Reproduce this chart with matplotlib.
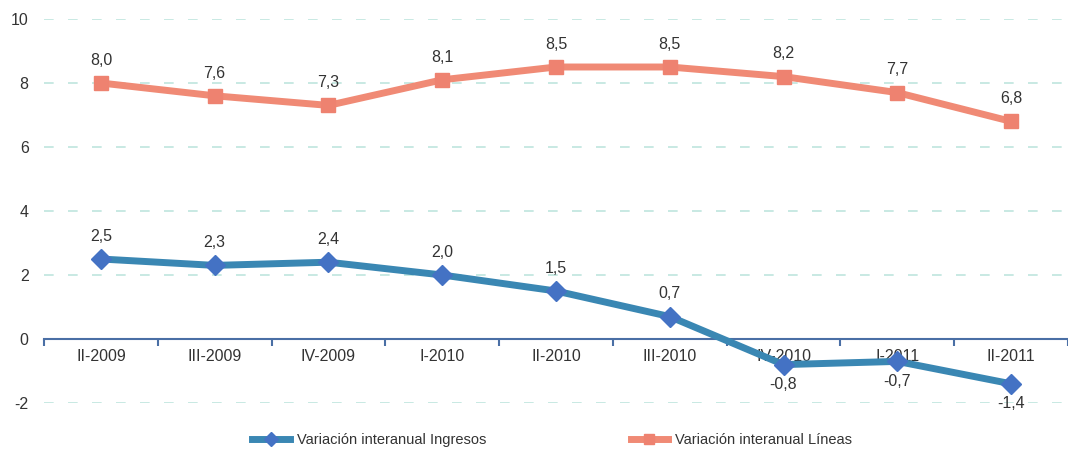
import matplotlib.pyplot as plt
import numpy as np

# Data
periods = ['II-2009', 'III-2009', 'IV-2009', 'I-2010', 'II-2010',
           'III-2010', 'IV-2010', 'I-2011', 'II-2011']
ingresos = [2.5, 2.3, 2.4, 2.0, 1.5, 0.7, -0.8, -0.7, -1.4]
lineas = [8.0, 7.6, 7.3, 8.1, 8.5, 8.5, 8.2, 7.7, 6.8]

plt.rcParams['font.family'] = ['Liberation Sans', 'DejaVu Sans']
txt = '#333333'

fig = plt.figure(figsize=(10.68, 4.5), dpi=100)
ax = fig.add_axes([44 / 1068, 1 - 403 / 450, 1024 / 1068, 384 / 450])

x = np.arange(len(periods))
ax.plot(x, ingresos, color='#3a87b3', lw=5, marker='D', ms=10,
        mfc='#4472c4', mec='#4472c4', label='Variación interanual Ingresos',
        zorder=3, clip_on=False)
ax.plot(x, lineas, color='#f08a75', lw=5, marker='s', ms=9.5,
        mfc='#ee8270', mec='#ee8270', label='Variación interanual Líneas',
        zorder=3, clip_on=False)

# Data labels
for xi, v in zip(x, lineas):
    ax.annotate(f'{v:.1f}'.replace('.', ','), (xi, v), xytext=(0, 11),
                textcoords='offset points', ha='center', va='bottom',
                fontsize=11.5, color=txt)
for xi, v in zip(x, ingresos):
    off = 11 if v >= 0 else -9
    ax.annotate(f'{v:.1f}'.replace('.', ','), (xi, v), xytext=(0, off),
                textcoords='offset points', ha='center',
                va='bottom' if v >= 0 else 'top',
                fontsize=11.5, color=txt)

ax.set_xlim(-0.5, 8.5)
ax.set_ylim(-2, 10)
ax.set_yticks([-2, 0, 2, 4, 6, 8, 10])
ax.set_yticklabels(['-2', '0', '2', '4', '6', '8', '10'])
ax.grid(axis='y', color='#bfe5de', ls=(0, (5.8, 8.6)), lw=1.2)
ax.set_axisbelow(True)

for s in ['top', 'right', 'left']:
    ax.spines[s].set_visible(False)
ax.spines['bottom'].set_position(('data', 0))
ax.spines['bottom'].set_color('#4a6fa5')
ax.spines['bottom'].set_linewidth(1.5)

ax.set_xticks(x)
ax.set_xticklabels(periods)
ax.set_xticks(np.arange(-0.5, 9, 1), minor=True)
ax.tick_params(axis='x', which='major', length=0, pad=7, labelsize=11.5, colors=txt)
ax.tick_params(axis='x', which='minor', length=5, width=1.5, color='#4a6fa5')
ax.tick_params(axis='y', length=0, pad=11, labelsize=11.5, colors=txt)

leg = fig.legend(loc='center', bbox_to_anchor=(0.517, 1 - 440 / 450), ncol=2,
                 frameon=False, fontsize=10.5, columnspacing=9.9,
                 handlelength=2.6, handletextpad=0.48,
                 markerscale=0.7, labelcolor=txt)

fig.savefig('out.png', dpi=100)
